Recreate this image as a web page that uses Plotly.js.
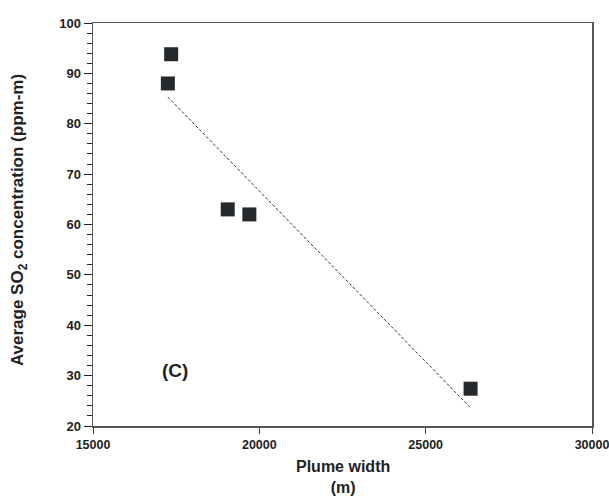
<!DOCTYPE html>
<html>
<head>
<meta charset="utf-8">
<script src="https://cdn.plot.ly/plotly-3.0.1.min.js"></script>
<style>html,body{margin:0;padding:0;background:#fff}#chart{width:609px;height:501px}</style>
</head>
<body>
<div id="chart"></div>
<script>
const plumeWidth = [17350, 17250, 19050, 19700, 26350];
const so2Conc = [93.8, 88.0, 63.0, 62.0, 27.4];
const fitX = [17250, 26350];
const fitY = [85.3, 23.6];
const xTicks = [15000, 20000, 25000, 30000];
const xTickText = ['15000', '20000', '25000', '30000'];
const yTicks = [20, 30, 40, 50, 60, 70, 80, 90, 100];
const yTickText = ['20', '30', '40', '50', '60', '70', '80', '90', '100'];

const yFont = {family: 'Liberation Sans, Arial, sans-serif', size: 13, color: '#222', weight: 'bold'};
const xFont = {family: 'Liberation Sans, Arial, sans-serif', size: 12.5, color: '#222', weight: 'bold'};

const traces = [
  {
    x: fitX, y: fitY, mode: 'lines', type: 'scatter',
    line: {color: '#333', width: 1, dash: '3px,2px'},
    hoverinfo: 'skip', showlegend: false
  },
  {
    x: plumeWidth, y: so2Conc, mode: 'markers', type: 'scatter',
    marker: {symbol: 'square', size: 14, color: '#25292b'},
    showlegend: false
  }
];

const layout = {
  width: 609, height: 501,
  margin: {l: 93, r: 17, t: 23, b: 75},
  paper_bgcolor: '#fff', plot_bgcolor: '#fff',
  showlegend: false,
  xaxis: {
    range: [15000, 30000], tickmode: 'array', tickvals: xTicks, ticktext: xTickText,
    ticks: 'outside', ticklen: 6, tickwidth: 1, tickcolor: '#444',
    showgrid: false, zeroline: false,
    showline: true, linecolor: '#555', linewidth: 1.5, mirror: true,
    tickfont: xFont, ticklabeloverflow: 'allow'
  },
  yaxis: {
    range: [20, 100], tickmode: 'array', tickvals: yTicks, ticktext: yTickText,
    ticks: 'outside', ticklen: 8, tickwidth: 1, tickcolor: '#222',
    minor: {dtick: 2, tick0: 20, ticks: 'outside', ticklen: 5, tickcolor: '#222', tickwidth: 1, showgrid: false},
    showgrid: false, zeroline: false,
    showline: true, linecolor: '#555', linewidth: 1.5, mirror: true,
    tickfont: yFont, ticklabeloverflow: 'allow'
  },
  annotations: [
    {
      xref: 'paper', yref: 'paper', x: -0.147, y: 0.51, xanchor: 'center', yanchor: 'middle',
      text: 'Average SO<sub>2</sub> concentration (ppm-m)', showarrow: false, textangle: -90,
      font: {family: 'Liberation Sans, Arial, sans-serif', size: 17, color: '#222', weight: 'bold'}
    },
    {
      xref: 'paper', yref: 'paper', x: 0.5, y: -0.075, xanchor: 'center', yanchor: 'top',
      text: 'Plume width<br>(m)', showarrow: false,
      font: {family: 'Liberation Sans, Arial, sans-serif', size: 16, color: '#222', weight: 'bold'}
    },
    {
      xref: 'x', yref: 'y', x: 17450, y: 31, xanchor: 'center', yanchor: 'middle',
      text: '(C)', showarrow: false,
      font: {family: 'Liberation Sans, Arial, sans-serif', size: 19, color: '#222', weight: 'bold'}
    }
  ]
};

Plotly.newPlot('chart', traces, layout, {displayModeBar: false, staticPlot: true});
</script>
</body>
</html>
